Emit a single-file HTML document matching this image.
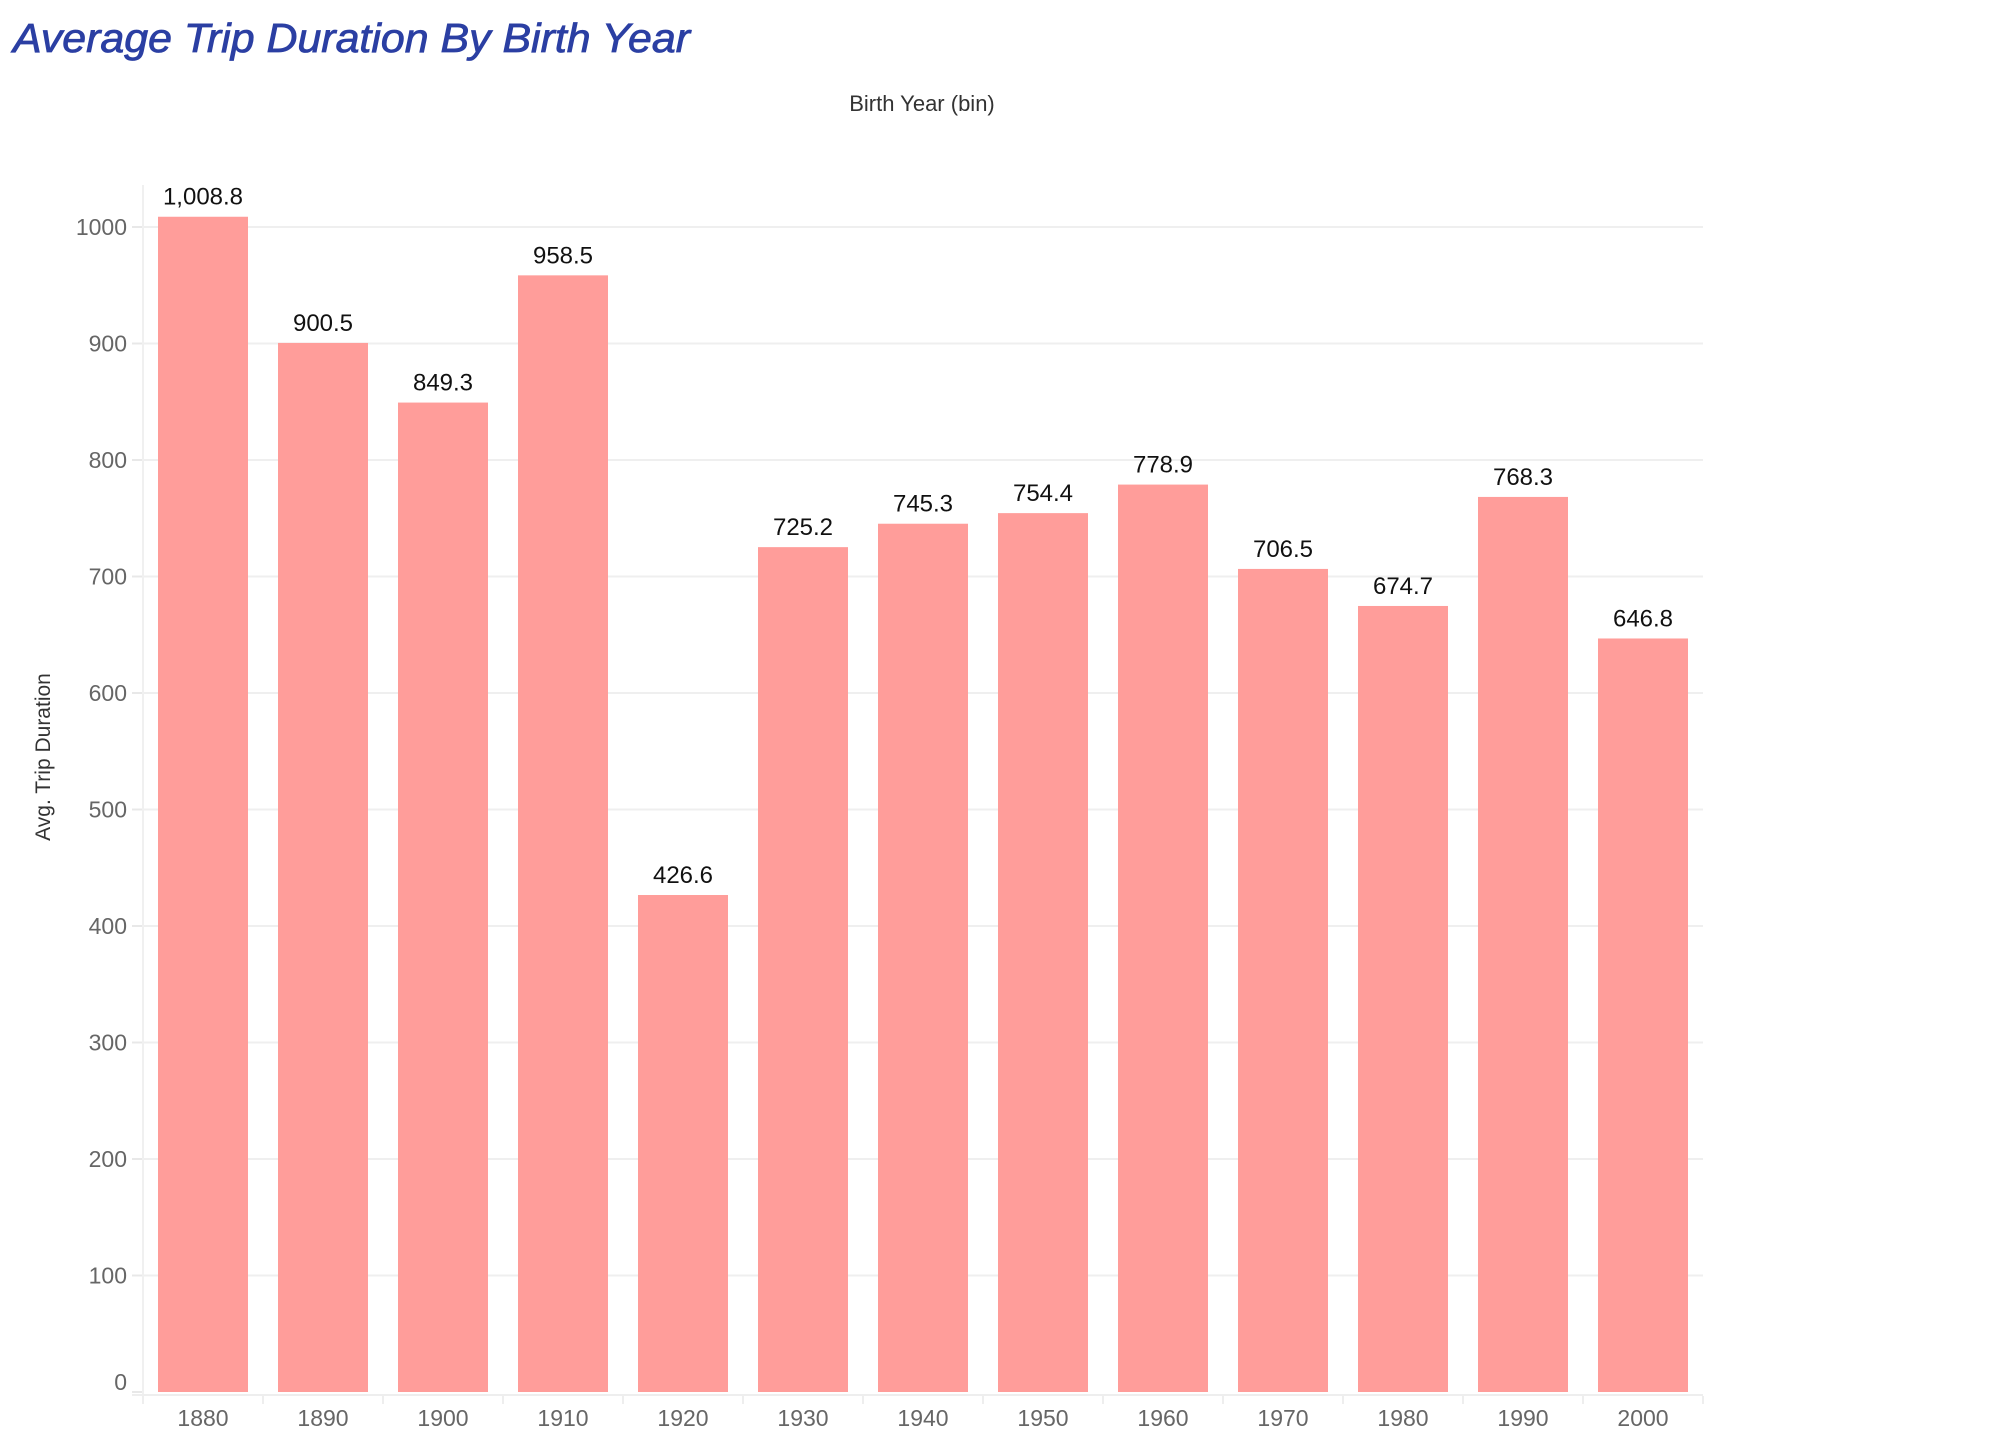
<!DOCTYPE html>
<html><head><meta charset="utf-8"><style>
html,body{margin:0;padding:0;background:#fff;}
svg{display:block;}
</style></head><body>
<svg id="chart" width="1998" height="1450" xmlns="http://www.w3.org/2000/svg">
<text x="13" y="52" font-family="Liberation Sans, sans-serif" font-style="italic" font-size="41" fill="#2b3fa3" stroke="#2b3fa3" stroke-width="0.8" textLength="677" lengthAdjust="spacingAndGlyphs">Average Trip Duration By  Birth Year</text>
<text x="922" y="111" text-anchor="middle" font-family="Liberation Sans, sans-serif" font-size="22" fill="#333">Birth Year (bin)</text>
<text transform="translate(50,757) rotate(-90)" text-anchor="middle" font-family="Liberation Sans, sans-serif" font-size="21" fill="#333">Avg. Trip Duration</text>
<g id="grid"></g><g id="bars"></g><g id="labels"></g><g id="axes"></g>
</svg>
<script>
const categories = ["1880","1890","1900","1910","1920","1930","1940","1950","1960","1970","1980","1990","2000"];
const values = [1008.8,900.5,849.3,958.5,426.6,725.2,745.3,754.4,778.9,706.5,674.7,768.3,646.8];
const valueLabels = ["1,008.8","900.5","849.3","958.5","426.6","725.2","745.3","754.4","778.9","706.5","674.7","768.3","646.8"];
const yTicks = [0,100,200,300,400,500,600,700,800,900,1000];

const NS="http://www.w3.org/2000/svg";
const left=143, right=1703, y0=1392, pxPer=1.165;
const band=(right-left)/categories.length;
function x(i){return left+i*band;}
function y(v){return y0-v*pxPer;}
function mk(tag,attrs,parent){const e=document.createElementNS(NS,tag);for(const k in attrs)e.setAttribute(k,attrs[k]);parent.appendChild(e);return e;}
const grid=document.getElementById('grid'),bars=document.getElementById('bars'),labels=document.getElementById('labels'),axes=document.getElementById('axes');

yTicks.forEach(t=>{
  if(t>0){
    const g=mk('line',{x1:left,x2:right,y1:y(t),y2:y(t),stroke:'#efefef','stroke-width':2},grid);
    
    
  }
  const tk=mk('line',{x1:132,x2:left,y1:y(t),y2:y(t),stroke:'#e8e8e8','stroke-width':2},axes);
  
  
  const lb=mk('text',{x:127,y:y(t)+8-(t===0?10:0),'text-anchor':'end','font-family':'Liberation Sans, sans-serif','font-size':23,fill:'#666'},axes);
  lb.textContent=t;
  
  
});
const al=mk('line',{x1:left,x2:left,y1:185,y2:y0+3,stroke:'#f0f0f0','stroke-width':2},axes);


const bl=mk('line',{x1:132,x2:right,y1:y0+3,y2:y0+3,stroke:'#eeeeee','stroke-width':2},axes);



categories.forEach((c,i)=>{
  const r=mk('rect',{x:x(i)+15,y:y(values[i]),width:band-30,height:y0-y(values[i]),fill:'#ff9d9a'},bars);
  
  
  const v=mk('text',{x:x(i)+band/2,y:y(values[i])-12,'text-anchor':'middle','font-family':'Liberation Sans, sans-serif','font-size':24,fill:'#111'},labels);
  v.textContent=valueLabels[i];
  
  
  const tk=mk('line',{x1:x(i),x2:x(i),y1:y0+4,y2:y0+12,stroke:'#eeeeee','stroke-width':2},axes);
  
  
  const xl=mk('text',{x:x(i)+band/2,y:1426,'text-anchor':'middle','font-family':'Liberation Sans, sans-serif','font-size':23,fill:'#666'},axes);
  xl.textContent=c;
  
  
});
const et=mk('line',{x1:right,x2:right,y1:y0+4,y2:y0+12,stroke:'#eeeeee','stroke-width':2},axes);


</script>
</body></html>
